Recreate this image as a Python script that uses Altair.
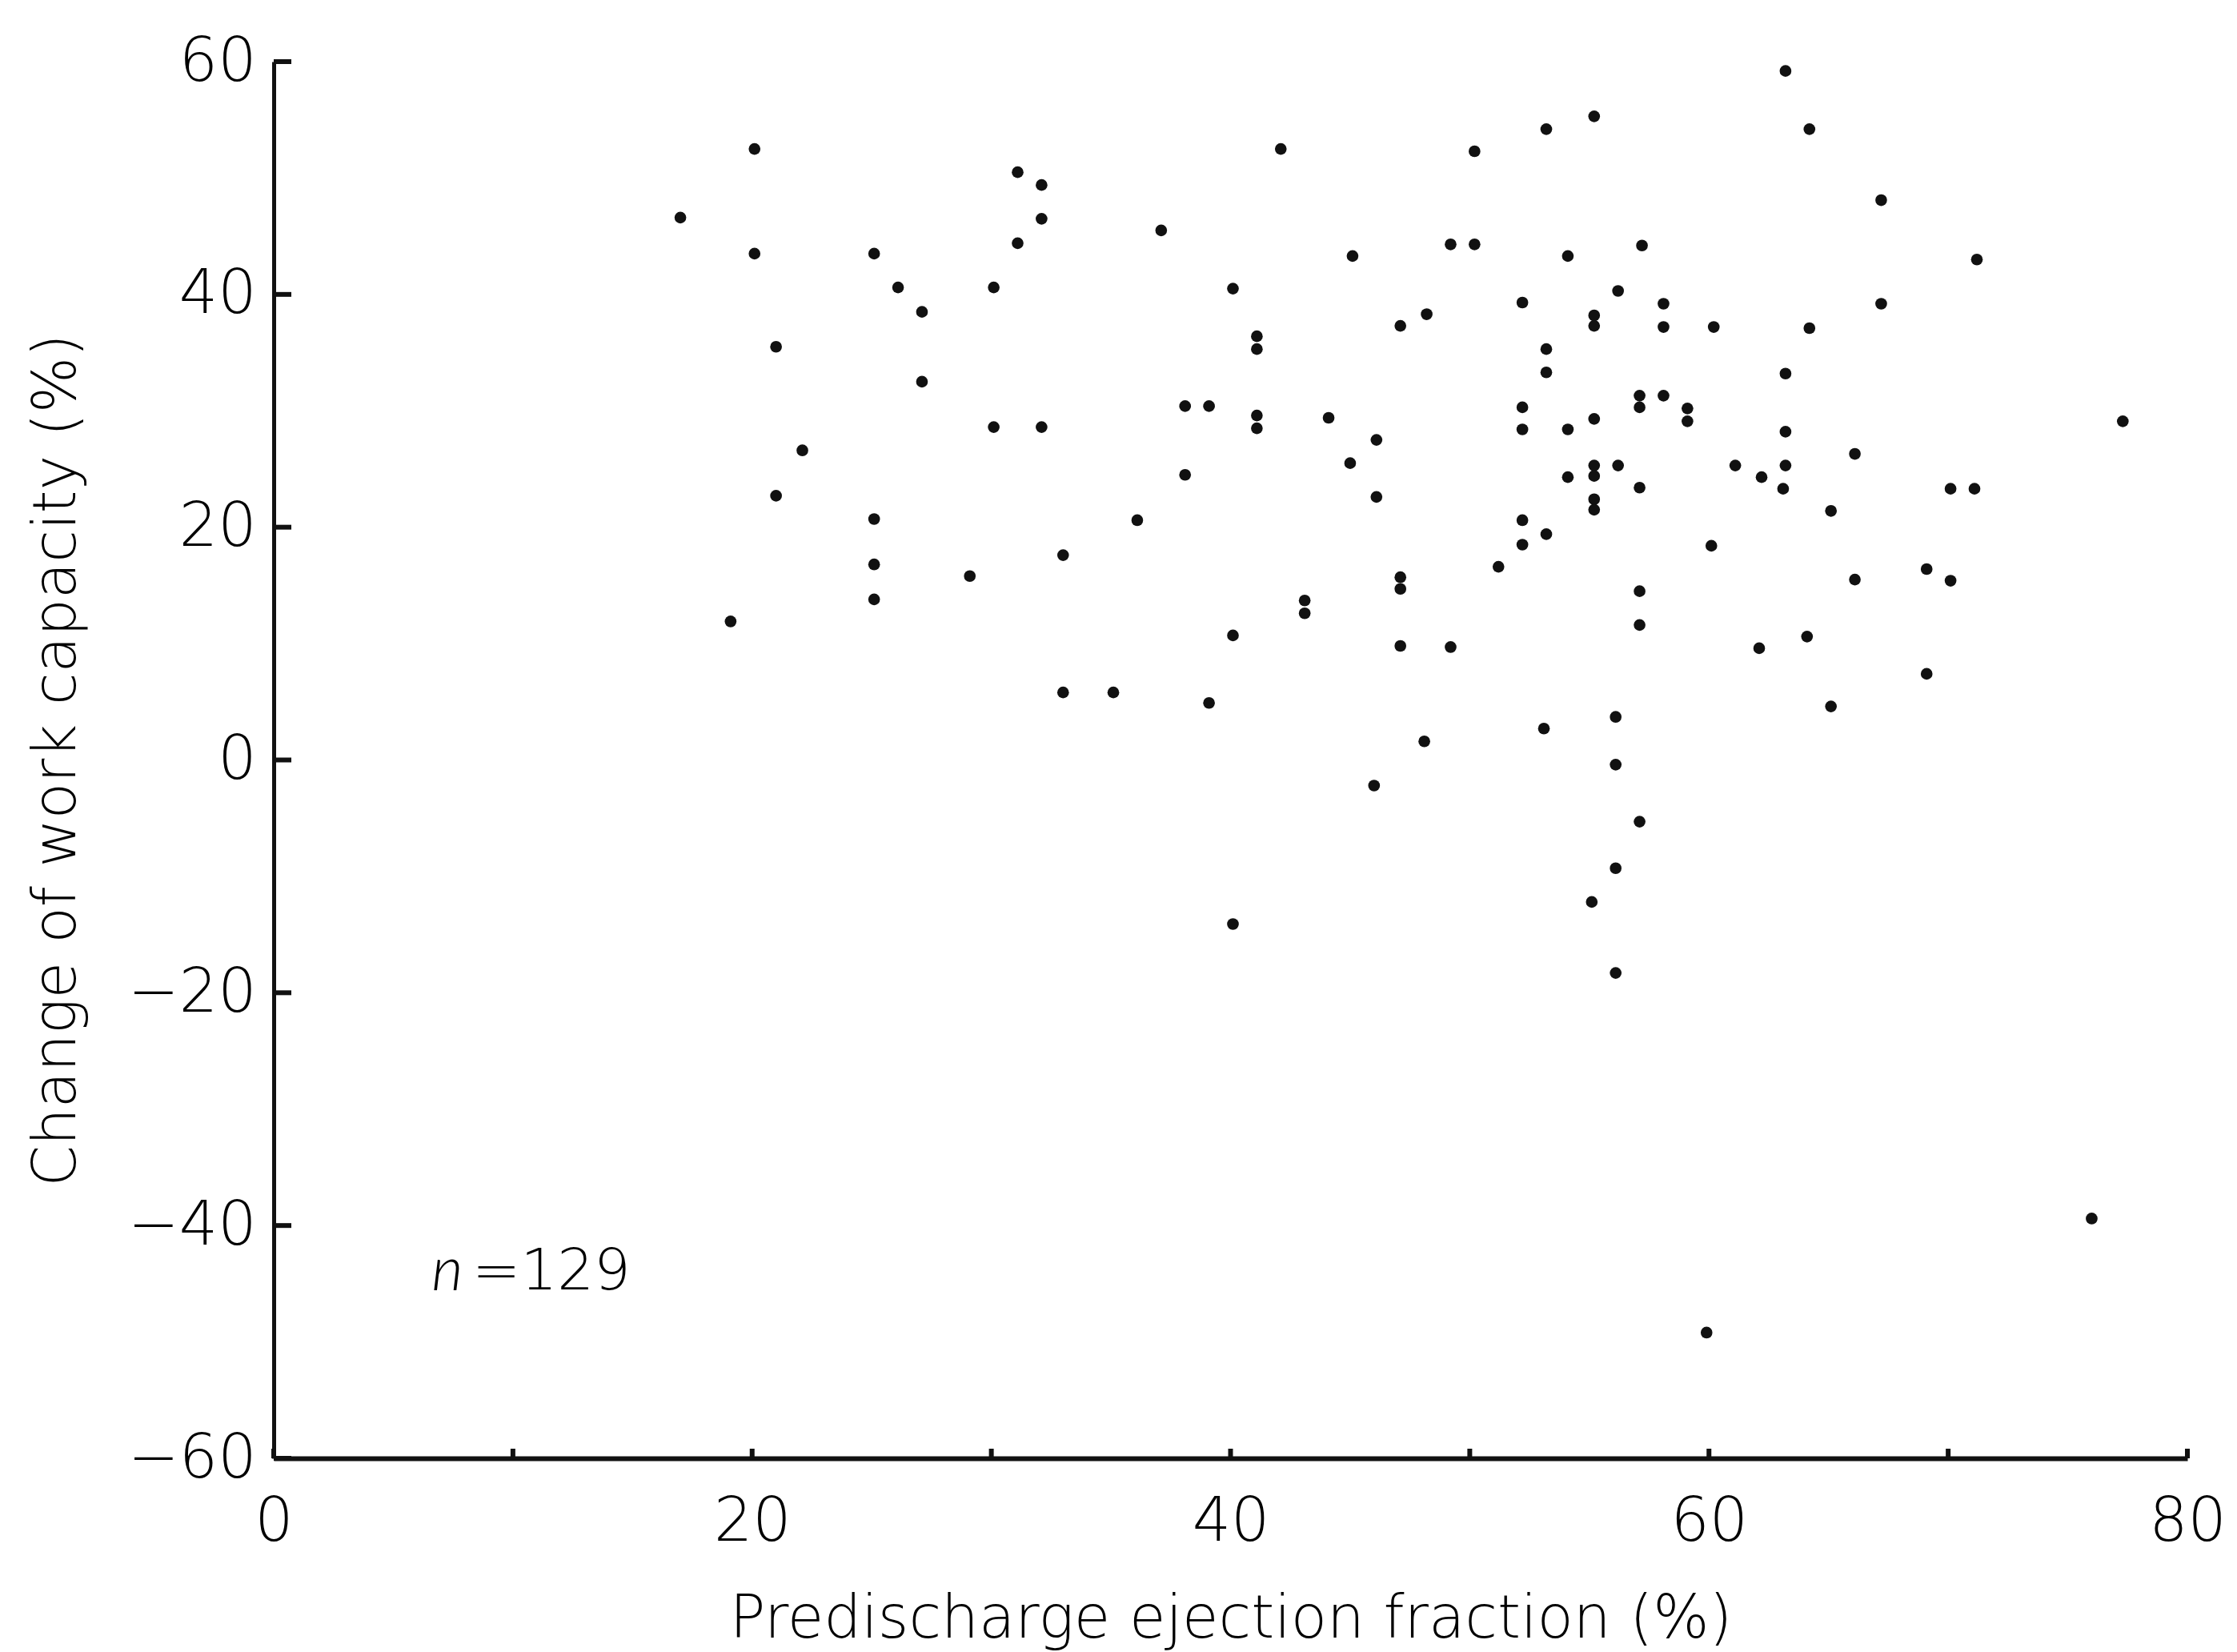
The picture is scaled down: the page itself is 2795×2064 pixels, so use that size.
import altair as alt
import pandas as pd

# Predischarge ejection fraction (%)
ef = [17.0, 19.1, 20.1, 20.1, 21.0, 21.0, 22.1, 25.1, 25.1, 25.1, 25.1,
      42.1, 31.1, 32.1, 32.1, 37.1, 31.1, 45.1, 26.1, 30.1, 40.1, 27.1, 41.1, 41.1,
      27.1, 38.1, 39.1, 41.1, 41.1, 44.1, 30.1, 32.1, 45.0, 38.1, 36.1,
      33.0, 29.1, 43.1, 43.1, 40.1, 33.0, 35.1, 39.1, 40.1,
      63.2, 55.2, 53.2, 50.2, 64.2, 49.2, 50.2, 54.1, 57.2, 56.2, 52.2, 58.1,
      48.2, 47.1, 55.2, 55.2, 58.1, 60.2, 64.2, 53.2, 53.2, 63.2, 57.1, 57.1,
      58.1, 59.1, 59.1, 52.2, 52.2, 54.1, 55.2, 46.1, 63.2, 55.2, 55.2, 56.2,
      54.1, 57.1, 61.1, 62.2, 63.2, 63.1, 46.1, 55.2, 55.2, 65.1, 52.2,
      53.2, 52.2, 60.1, 51.2, 47.1, 47.1, 57.1, 57.1, 47.1, 49.2, 62.1, 64.1,
      65.1, 56.1, 53.1, 48.1, 46.0, 56.1, 57.1, 56.1, 55.1, 56.1,
      71.2, 77.3, 67.2, 67.2, 66.1, 70.1, 71.1, 69.1, 70.1, 66.1, 69.1,
      76.0, 59.9]

# Change of work capacity (%)
wc = [46.6, 11.9, 52.5, 43.5, 35.5, 22.7, 26.6, 43.5, 20.7, 16.8, 13.8,
      52.5, 50.5, 49.4, 46.5, 45.5, 44.4, 43.3, 40.6, 40.6, 40.5, 38.5, 36.4, 35.3,
      32.5, 30.4, 30.4, 29.6, 28.5, 29.4, 28.6, 28.6, 25.5, 24.5, 20.6,
      17.6, 15.8, 13.7, 12.6, 10.7, 5.8, 5.8, 4.9, -14.1,
      59.2, 55.3, 54.2, 52.3, 54.2, 44.3, 44.3, 43.3, 44.2, 40.3, 39.3, 39.2,
      38.3, 37.3, 38.2, 37.3, 37.2, 37.2, 37.1, 35.3, 33.3, 33.2, 31.3, 30.3,
      31.3, 30.2, 29.1, 30.3, 28.4, 28.4, 29.3, 27.5, 28.2, 25.3, 24.4, 25.3,
      24.3, 23.4, 25.3, 24.3, 25.3, 23.3, 22.6, 22.4, 21.5, 21.4, 20.6,
      19.4, 18.5, 18.4, 16.6, 15.7, 14.7, 14.5, 11.6, 9.8, 9.7, 9.6, 10.6,
      4.6, 3.7, 2.7, 1.6, -2.2, -0.4, -5.3, -9.3, -12.2, -18.3,
      43.0, 29.1, 48.1, 39.2, 26.3, 23.3, 23.3, 16.4, 15.4, 15.5, 7.4,
      -39.4, -49.2]

x_tick_values = [0, 10, 20, 30, 40, 50, 60, 70, 80]
x_label_values = [0, 20, 40, 60, 80]
y_tick_values = [-60, -40, -20, 0, 20, 40, 60]

note_x = [6.6, 8.3]
note_y = [-44.0, -44.0]
note_text = ["n", "=129"]

x_title = "Predischarge ejection fraction (%)"
y_title = "Change of work capacity (%)"

FONT = "DejaVu Sans"
WEIGHT = 200
INK = "#111111"
TXT = "#000000"
W, H = 2391, 1745

df = pd.DataFrame({"ef": ef, "wc": wc})
xs = alt.Scale(domain=[0, 80], nice=False, zero=False)
ys = alt.Scale(domain=[-60, 60], nice=False, zero=False)

points = alt.Chart(df).mark_circle(size=215, color=INK, opacity=1).encode(
    x=alt.X("ef:Q", scale=xs, axis=alt.Axis(
        values=x_label_values, title=x_title, ticks=False, grid=False,
        domainColor=INK, domainWidth=6, format="d", labelFlush=False,
        labelFont=FONT, labelFontSize=76, labelFontWeight=WEIGHT,
        labelColor=TXT, labelPadding=42,
        titleFont=FONT, titleFontSize=74, titleFontWeight=WEIGHT,
        titleColor=TXT, titlePadding=48)),
    y=alt.Y("wc:Q", scale=ys, axis=alt.Axis(
        values=y_tick_values, title=y_title, ticks=False, grid=False,
        domainColor=INK, domainWidth=5, format="d", labelFlush=False,
        labelFont=FONT, labelFontSize=76, labelFontWeight=WEIGHT,
        labelColor=TXT, labelPadding=22,
        titleFont=FONT, titleFontSize=74, titleFontWeight=WEIGHT,
        titleColor=TXT, titlePadding=50)),
)

ytk = alt.Chart(pd.DataFrame({"v": y_tick_values})).mark_rule(
    color=INK, strokeWidth=6).encode(
    y=alt.Y("v:Q", scale=ys), x=alt.value(0), x2=alt.value(22))

xtk = alt.Chart(pd.DataFrame({"v": x_tick_values})).mark_rule(
    color=INK, strokeWidth=6).encode(
    x=alt.X("v:Q", scale=xs), y=alt.value(H), y2=alt.value(H - 12))

note_df = pd.DataFrame({"x": note_x, "y": note_y, "t": note_text})
note_n = alt.Chart(note_df.iloc[[0]]).mark_text(
    font="Lato", fontSize=76, fontStyle="italic", fontWeight=300,
    align="left", baseline="middle", color=TXT).encode(
    x=alt.X("x:Q", scale=xs), y=alt.Y("y:Q", scale=ys), text="t:N")
note_v = alt.Chart(note_df.iloc[[1]]).mark_text(
    font=FONT, fontSize=72, fontWeight=WEIGHT, align="left",
    baseline="middle", color=TXT).encode(
    x=alt.X("x:Q", scale=xs), y=alt.Y("y:Q", scale=ys), text="t:N")

chart = alt.layer(points, ytk, xtk, note_n, note_v).properties(
    width=W, height=H,
    autosize=alt.AutoSizeParams(type="none"),
    padding={"left": 334, "top": 69, "right": 50, "bottom": 240},
    background="white",
).configure_view(stroke=None)

chart.save("out.html", embed_options={"renderer": "svg", "actions": False})
